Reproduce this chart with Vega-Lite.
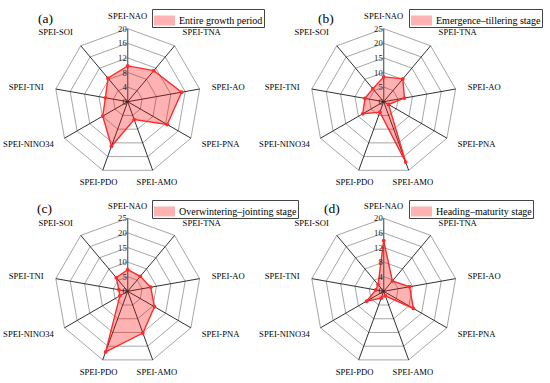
{
"$schema": "https://vega.github.io/schema/vega-lite/v6.json",
"padding": 0,
"background": "white",
"bounds": "flush",
"spacing": 0,
"columns": 2,
"datasets": {
 "rings": [
  {"r": 0.2, "k": [0,1,2,3,4,5,6,7,8]},
  {"r": 0.4, "k": [0,1,2,3,4,5,6,7,8]},
  {"r": 0.6, "k": [0,1,2,3,4,5,6,7,8]},
  {"r": 0.8, "k": [0,1,2,3,4,5,6,7,8]},
  {"r": 1.0, "k": [0,1,2,3,4,5,6,7,8]}
 ],
 "axes": [
  {"axis": "SPEI-NAO", "k": 0},
  {"axis": "SPEI-TNA", "k": 1},
  {"axis": "SPEI-AO", "k": 2},
  {"axis": "SPEI-PNA", "k": 3},
  {"axis": "SPEI-AMO", "k": 4},
  {"axis": "SPEI-PDO", "k": 5},
  {"axis": "SPEI-NINO34", "k": 6},
  {"axis": "SPEI-TNI", "k": 7},
  {"axis": "SPEI-SOI", "k": 8}
 ],
 "ticks20": [{"v": 0}, {"v": 4}, {"v": 8}, {"v": 12}, {"v": 16}, {"v": 20}],
 "ticks25": [{"v": 0}, {"v": 5}, {"v": 10}, {"v": 15}, {"v": 20}, {"v": 25}],
 "values": [
  {"panel": "a", "axis": "SPEI-NAO", "value": 9.8},
  {"panel": "a", "axis": "SPEI-TNA", "value": 11.1},
  {"panel": "a", "axis": "SPEI-AO", "value": 15.0},
  {"panel": "a", "axis": "SPEI-PNA", "value": 12.5},
  {"panel": "a", "axis": "SPEI-AMO", "value": 5.2},
  {"panel": "a", "axis": "SPEI-PDO", "value": 13.0},
  {"panel": "a", "axis": "SPEI-NINO34", "value": 7.9},
  {"panel": "a", "axis": "SPEI-TNI", "value": 6.2},
  {"panel": "a", "axis": "SPEI-SOI", "value": 8.4},
  {"panel": "b", "axis": "SPEI-NAO", "value": 8.5},
  {"panel": "b", "axis": "SPEI-TNA", "value": 10.2},
  {"panel": "b", "axis": "SPEI-AO", "value": 7.2},
  {"panel": "b", "axis": "SPEI-PNA", "value": 1.9},
  {"panel": "b", "axis": "SPEI-AMO", "value": 22.0},
  {"panel": "b", "axis": "SPEI-PDO", "value": 3.8},
  {"panel": "b", "axis": "SPEI-NINO34", "value": 8.3},
  {"panel": "b", "axis": "SPEI-TNI", "value": 6.5},
  {"panel": "b", "axis": "SPEI-SOI", "value": 5.8},
  {"panel": "c", "axis": "SPEI-NAO", "value": 7.4},
  {"panel": "c", "axis": "SPEI-TNA", "value": 6.7},
  {"panel": "c", "axis": "SPEI-AO", "value": 8.0},
  {"panel": "c", "axis": "SPEI-PNA", "value": 10.6},
  {"panel": "c", "axis": "SPEI-AMO", "value": 15.2},
  {"panel": "c", "axis": "SPEI-PDO", "value": 22.1},
  {"panel": "c", "axis": "SPEI-NINO34", "value": 3.1},
  {"panel": "c", "axis": "SPEI-TNI", "value": 3.1},
  {"panel": "c", "axis": "SPEI-SOI", "value": 6.1},
  {"panel": "d", "axis": "SPEI-NAO", "value": 13.9},
  {"panel": "d", "axis": "SPEI-TNA", "value": 3.7},
  {"panel": "d", "axis": "SPEI-AO", "value": 7.2},
  {"panel": "d", "axis": "SPEI-PNA", "value": 9.4},
  {"panel": "d", "axis": "SPEI-AMO", "value": 1.3},
  {"panel": "d", "axis": "SPEI-PDO", "value": 2.0},
  {"panel": "d", "axis": "SPEI-NINO34", "value": 5.4},
  {"panel": "d", "axis": "SPEI-TNI", "value": 2.2},
  {"panel": "d", "axis": "SPEI-SOI", "value": 2.4}
 ]
},
"concat": [
 {
  "width": 275, "height": 191.5,
  "title": {"text": "(a)", "dx": 38, "dy": 29},
  "encoding": {
   "x": {"field": "x", "type": "quantitative", "scale": {"domain": [-1.7493, 2.0178], "nice": false, "zero": false}, "axis": null},
   "y": {"field": "y", "type": "quantitative", "scale": {"domain": [-1.2301, 1.3932], "nice": false, "zero": false}, "axis": null}
  },
  "layer": [
   {"data": {"name": "rings"}, "transform": [{"flatten": ["k"]}, {"calculate": "datum.r*sin(datum.k*2*PI/9)", "as": "x"}, {"calculate": "datum.r*cos(datum.k*2*PI/9)", "as": "y"}],
    "mark": {"type": "line", "interpolate": "linear-closed", "stroke": "#8f8f8f", "strokeWidth": 0.8},
    "encoding": {"detail": {"field": "r"}, "order": {"field": "k", "type": "quantitative"}}},
   {"data": {"name": "axes"}, "transform": [{"calculate": "sin(datum.k*2*PI/9)", "as": "x"}, {"calculate": "cos(datum.k*2*PI/9)", "as": "y"}],
    "mark": {"type": "rule", "color": "#1a1a1a", "stroke": {"expr": "datum.k === 0 ? '#6a6a6a' : '#1a1a1a'"}, "strokeWidth": {"expr": "datum.k === 0 ? 1.3 : 0.9"}},
    "encoding": {"x2": {"datum": 0}, "y2": {"datum": 0}}},
   {"data": {"name": "values"}, "transform": [{"filter": "datum.panel === 'a'"}, {"lookup": "axis", "from": {"data": {"name": "axes"}, "key": "axis", "fields": ["k"]}}, {"calculate": "datum.value/20", "as": "r"}, {"calculate": "datum.r*sin(datum.k*2*PI/9)", "as": "x"}, {"calculate": "datum.r*cos(datum.k*2*PI/9)", "as": "y"}],
    "layer": [
     {"mark": {"type": "line", "interpolate": "linear-closed", "stroke": "#ff2a2a", "strokeWidth": 1.4, "fillOpacity": 0.3},
      "encoding": {"order": {"field": "k", "type": "quantitative"},
       "fill": {"datum": "Entire growth period", "type": "nominal", "scale": {"range": ["#ff0000"]}, "legend": {"orient": "none", "legendX": 152, "legendY": 9}}}},
     {"mark": {"type": "circle", "color": "#ff2a2a", "size": 14, "opacity": 1}}
    ]},
   {"data": {"name": "ticks20"}, "transform": [{"calculate": "0", "as": "x"}, {"calculate": "datum.v/20", "as": "y"}],
    "mark": {"type": "text", "align": "right", "baseline": "middle", "dx": -1, "fontSize": 8.6, "color": "#222"},
    "encoding": {"text": {"field": "v"}}},
   {"data": {"name": "axes"}, "transform": [{"calculate": "1.17*sin(datum.k*2*PI/9)", "as": "x"}, {"calculate": "1.17*cos(datum.k*2*PI/9)", "as": "y"}],
    "mark": {"type": "text", "baseline": "middle", "fontSize": 8.6, "color": "black", "align": {"expr": "datum.x > 0.5 ? 'left' : (datum.x < -0.5 ? 'right' : 'center')"}, "dy": {"expr": "abs(datum.x) > 0.5 && datum.y > 0.5 ? -4 : 0"}},
    "encoding": {"text": {"field": "axis"}}}
  ]
 },
 {
  "width": 275, "height": 191.5,
  "title": {"text": "(b)", "dx": 43, "dy": 29},
  "encoding": {
   "x": {"field": "x", "type": "quantitative", "scale": {"domain": [-1.4890, 2.2781], "nice": false, "zero": false}, "axis": null},
   "y": {"field": "y", "type": "quantitative", "scale": {"domain": [-1.2301, 1.3932], "nice": false, "zero": false}, "axis": null}
  },
  "layer": [
   {"data": {"name": "rings"}, "transform": [{"flatten": ["k"]}, {"calculate": "datum.r*sin(datum.k*2*PI/9)", "as": "x"}, {"calculate": "datum.r*cos(datum.k*2*PI/9)", "as": "y"}],
    "mark": {"type": "line", "interpolate": "linear-closed", "stroke": "#8f8f8f", "strokeWidth": 0.8},
    "encoding": {"detail": {"field": "r"}, "order": {"field": "k", "type": "quantitative"}}},
   {"data": {"name": "axes"}, "transform": [{"calculate": "sin(datum.k*2*PI/9)", "as": "x"}, {"calculate": "cos(datum.k*2*PI/9)", "as": "y"}],
    "mark": {"type": "rule", "color": "#1a1a1a", "stroke": {"expr": "datum.k === 0 ? '#6a6a6a' : '#1a1a1a'"}, "strokeWidth": {"expr": "datum.k === 0 ? 1.3 : 0.9"}},
    "encoding": {"x2": {"datum": 0}, "y2": {"datum": 0}}},
   {"data": {"name": "values"}, "transform": [{"filter": "datum.panel === 'b'"}, {"lookup": "axis", "from": {"data": {"name": "axes"}, "key": "axis", "fields": ["k"]}}, {"calculate": "datum.value/25", "as": "r"}, {"calculate": "datum.r*sin(datum.k*2*PI/9)", "as": "x"}, {"calculate": "datum.r*cos(datum.k*2*PI/9)", "as": "y"}],
    "layer": [
     {"mark": {"type": "line", "interpolate": "linear-closed", "stroke": "#ff2a2a", "strokeWidth": 1.4, "fillOpacity": 0.3},
      "encoding": {"order": {"field": "k", "type": "quantitative"},
       "fill": {"datum": "Emergence–tillering stage", "type": "nominal", "scale": {"range": ["#ff0000"]}, "legend": {"orient": "none", "legendX": 134, "legendY": 9}}}},
     {"mark": {"type": "circle", "color": "#ff2a2a", "size": 14, "opacity": 1}}
    ]},
   {"data": {"name": "ticks25"}, "transform": [{"calculate": "0", "as": "x"}, {"calculate": "datum.v/25", "as": "y"}],
    "mark": {"type": "text", "align": "right", "baseline": "middle", "dx": -1, "fontSize": 8.6, "color": "#222"},
    "encoding": {"text": {"field": "v"}}},
   {"data": {"name": "axes"}, "transform": [{"calculate": "1.17*sin(datum.k*2*PI/9)", "as": "x"}, {"calculate": "1.17*cos(datum.k*2*PI/9)", "as": "y"}],
    "mark": {"type": "text", "baseline": "middle", "fontSize": 8.6, "color": "black", "align": {"expr": "datum.x > 0.5 ? 'left' : (datum.x < -0.5 ? 'right' : 'center')"}, "dy": {"expr": "abs(datum.x) > 0.5 && datum.y > 0.5 ? -4 : 0"}},
    "encoding": {"text": {"field": "axis"}}}
  ]
 },
 {
  "width": 275, "height": 191.5,
  "title": {"text": "(c)", "dx": 37, "dy": 27.5},
  "encoding": {
   "x": {"field": "x", "type": "quantitative", "scale": {"domain": [-1.7493, 2.0178], "nice": false, "zero": false}, "axis": null},
   "y": {"field": "y", "type": "quantitative", "scale": {"domain": [-1.2630, 1.3603], "nice": false, "zero": false}, "axis": null}
  },
  "layer": [
   {"data": {"name": "rings"}, "transform": [{"flatten": ["k"]}, {"calculate": "datum.r*sin(datum.k*2*PI/9)", "as": "x"}, {"calculate": "datum.r*cos(datum.k*2*PI/9)", "as": "y"}],
    "mark": {"type": "line", "interpolate": "linear-closed", "stroke": "#8f8f8f", "strokeWidth": 0.8},
    "encoding": {"detail": {"field": "r"}, "order": {"field": "k", "type": "quantitative"}}},
   {"data": {"name": "axes"}, "transform": [{"calculate": "sin(datum.k*2*PI/9)", "as": "x"}, {"calculate": "cos(datum.k*2*PI/9)", "as": "y"}],
    "mark": {"type": "rule", "color": "#1a1a1a", "stroke": {"expr": "datum.k === 0 ? '#6a6a6a' : '#1a1a1a'"}, "strokeWidth": {"expr": "datum.k === 0 ? 1.3 : 0.9"}},
    "encoding": {"x2": {"datum": 0}, "y2": {"datum": 0}}},
   {"data": {"name": "values"}, "transform": [{"filter": "datum.panel === 'c'"}, {"lookup": "axis", "from": {"data": {"name": "axes"}, "key": "axis", "fields": ["k"]}}, {"calculate": "datum.value/25", "as": "r"}, {"calculate": "datum.r*sin(datum.k*2*PI/9)", "as": "x"}, {"calculate": "datum.r*cos(datum.k*2*PI/9)", "as": "y"}],
    "layer": [
     {"mark": {"type": "line", "interpolate": "linear-closed", "stroke": "#ff2a2a", "strokeWidth": 1.4, "fillOpacity": 0.3},
      "encoding": {"order": {"field": "k", "type": "quantitative"},
       "fill": {"datum": "Overwintering–jointing stage", "type": "nominal", "scale": {"range": ["#ff0000"]}, "legend": {"orient": "none", "legendX": 152, "legendY": 8}}}},
     {"mark": {"type": "circle", "color": "#ff2a2a", "size": 14, "opacity": 1}}
    ]},
   {"data": {"name": "ticks25"}, "transform": [{"calculate": "0", "as": "x"}, {"calculate": "datum.v/25", "as": "y"}],
    "mark": {"type": "text", "align": "right", "baseline": "middle", "dx": -1, "fontSize": 8.6, "color": "#222"},
    "encoding": {"text": {"field": "v"}}},
   {"data": {"name": "axes"}, "transform": [{"calculate": "1.17*sin(datum.k*2*PI/9)", "as": "x"}, {"calculate": "1.17*cos(datum.k*2*PI/9)", "as": "y"}],
    "mark": {"type": "text", "baseline": "middle", "fontSize": 8.6, "color": "black", "align": {"expr": "datum.x > 0.5 ? 'left' : (datum.x < -0.5 ? 'right' : 'center')"}, "dy": {"expr": "abs(datum.x) > 0.5 && datum.y > 0.5 ? -3 : 0"}},
    "encoding": {"text": {"field": "axis"}}}
  ]
 },
 {
  "width": 275, "height": 191.5,
  "title": {"text": "(d)", "dx": 49, "dy": 27.5},
  "encoding": {
   "x": {"field": "x", "type": "quantitative", "scale": {"domain": [-1.4890, 2.2781], "nice": false, "zero": false}, "axis": null},
   "y": {"field": "y", "type": "quantitative", "scale": {"domain": [-1.2630, 1.3603], "nice": false, "zero": false}, "axis": null}
  },
  "layer": [
   {"data": {"name": "rings"}, "transform": [{"flatten": ["k"]}, {"calculate": "datum.r*sin(datum.k*2*PI/9)", "as": "x"}, {"calculate": "datum.r*cos(datum.k*2*PI/9)", "as": "y"}],
    "mark": {"type": "line", "interpolate": "linear-closed", "stroke": "#8f8f8f", "strokeWidth": 0.8},
    "encoding": {"detail": {"field": "r"}, "order": {"field": "k", "type": "quantitative"}}},
   {"data": {"name": "axes"}, "transform": [{"calculate": "sin(datum.k*2*PI/9)", "as": "x"}, {"calculate": "cos(datum.k*2*PI/9)", "as": "y"}],
    "mark": {"type": "rule", "color": "#1a1a1a", "stroke": {"expr": "datum.k === 0 ? '#6a6a6a' : '#1a1a1a'"}, "strokeWidth": {"expr": "datum.k === 0 ? 1.3 : 0.9"}},
    "encoding": {"x2": {"datum": 0}, "y2": {"datum": 0}}},
   {"data": {"name": "values"}, "transform": [{"filter": "datum.panel === 'd'"}, {"lookup": "axis", "from": {"data": {"name": "axes"}, "key": "axis", "fields": ["k"]}}, {"calculate": "datum.value/20", "as": "r"}, {"calculate": "datum.r*sin(datum.k*2*PI/9)", "as": "x"}, {"calculate": "datum.r*cos(datum.k*2*PI/9)", "as": "y"}],
    "layer": [
     {"mark": {"type": "line", "interpolate": "linear-closed", "stroke": "#ff2a2a", "strokeWidth": 1.4, "fillOpacity": 0.3},
      "encoding": {"order": {"field": "k", "type": "quantitative"},
       "fill": {"datum": "Heading–maturity stage", "type": "nominal", "scale": {"range": ["#ff0000"]}, "legend": {"orient": "none", "legendX": 134, "legendY": 8}}}},
     {"mark": {"type": "circle", "color": "#ff2a2a", "size": 14, "opacity": 1}}
    ]},
   {"data": {"name": "ticks20"}, "transform": [{"calculate": "0", "as": "x"}, {"calculate": "datum.v/20", "as": "y"}],
    "mark": {"type": "text", "align": "right", "baseline": "middle", "dx": -1, "fontSize": 8.6, "color": "#222"},
    "encoding": {"text": {"field": "v"}}},
   {"data": {"name": "axes"}, "transform": [{"calculate": "1.17*sin(datum.k*2*PI/9)", "as": "x"}, {"calculate": "1.17*cos(datum.k*2*PI/9)", "as": "y"}],
    "mark": {"type": "text", "baseline": "middle", "fontSize": 8.6, "color": "black", "align": {"expr": "datum.x > 0.5 ? 'left' : (datum.x < -0.5 ? 'right' : 'center')"}, "dy": {"expr": "abs(datum.x) > 0.5 && datum.y > 0.5 ? -3 : 0"}},
    "encoding": {"text": {"field": "axis"}}}
  ]
 }
],
"resolve": {"scale": {"x": "independent", "y": "independent", "fill": "independent"}, "legend": {"fill": "independent"}},
"config": {
 "view": {"stroke": null},
 "font": "Liberation Serif",
 "title": {"font": "Liberation Serif", "fontSize": 13.5, "fontWeight": "normal", "anchor": "start", "orient": "top", "offset": 0, "baseline": "middle", "frame": "group", "color": "black"},
 "legend": {"title": null, "labelFont": "Liberation Serif", "labelFontSize": 10, "labelColor": "black", "symbolType": "M-1,-0.476H1V0.476H-1Z", "symbolSize": 441, "symbolOpacity": 0.3, "symbolStrokeWidth": 0, "strokeColor": "#444", "fillColor": "white", "padding": 1, "labelOffset": 4, "symbolOffset": 1}
}
}
